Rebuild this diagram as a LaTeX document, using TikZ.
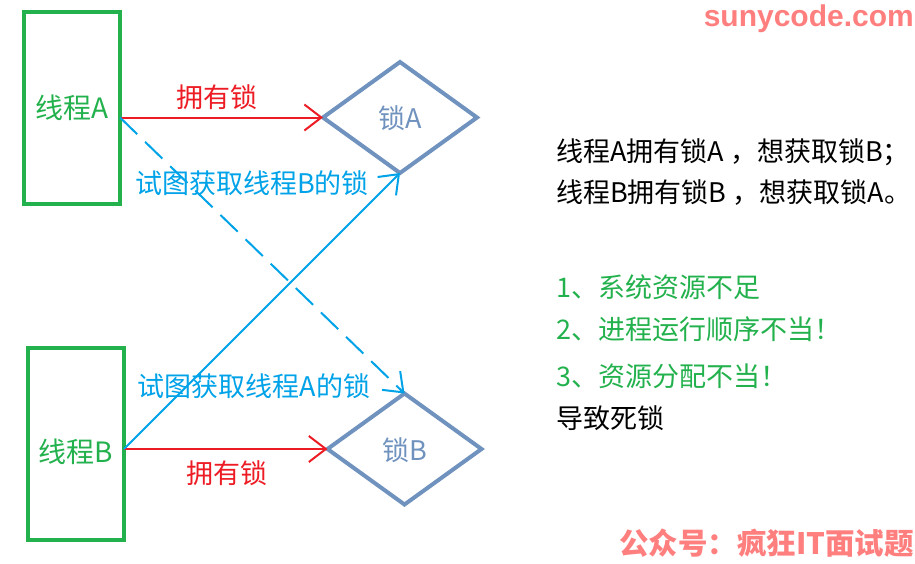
\documentclass[tikz,border=0pt]{standalone}
\usepackage{fontspec}
\setmainfont{Noto Sans CJK SC}
\newfontfamily\wmfont{Liberation Sans}
\usetikzlibrary{arrows.meta,shapes.geometric}
\definecolor{thgreen}{HTML}{22B14C}
\definecolor{lkred}{HTML}{ED1C24}
\definecolor{trblue}{HTML}{00A2E8}
\definecolor{lkgray}{HTML}{7092BE}
\definecolor{wmred}{HTML}{FF7F7F}
\tikzset{
  thread/.style={draw=thgreen,line width=4pt,minimum width=96pt,minimum height=192pt,inner sep=0pt,outer sep=0pt,text=thgreen,font=\fontsize{28}{30}\selectfont},
  lock/.style={diamond,draw=lkgray,line width=4pt,minimum width=154pt,minimum height=111pt,inner sep=0pt,outer sep=0pt,text=lkgray,font=\fontsize{27}{30}\selectfont},
  own/.style={draw=lkred,line width=2pt,-{Straight Barb[length=17pt,width=26pt,line width=2pt]}},
  try/.style={draw=trblue,line width=2pt,-{Straight Barb[length=17pt,width=26pt,line width=2pt]}},
  ownlbl/.style={text=lkred,font=\fontsize{27}{30}\selectfont,inner sep=0pt},
  trylbl/.style={text=trblue,font=\fontsize{27}{30}\selectfont,inner sep=0pt},
  note/.style={anchor=west,inner sep=0pt,font=\fontsize{27}{30}\selectfont},
}
\begin{document}
\begin{tikzpicture}[x=1pt,y=-1pt]
\useasboundingbox (0,0) rectangle (915,563);
\node[thread] (tA) at (72,108) {线程A};
\node[thread] (tB) at (76,444) {\raisebox{-8pt}[\height][\depth]{线程B}};
\node[lock] (dA) at (400,117.5) {\raisebox{-1pt}[\height][\depth]{锁A}};
\node[lock] (dB) at (404.5,449) {\raisebox{-1pt}[\height][\depth]{锁B}};
\coordinate (sA) at (tA.east |- dA.west);
\coordinate (sB) at (tB.east |- dB.west);
\draw[own] (sA) -- (dA.west);
\draw[own] (sB) -- (dB.west);
\draw[try,dash pattern=on 24pt off 11pt] (sA) -- (dB.north);
\draw[try] (sB) -- (dA.south);
\node[ownlbl] (oA) at (217,97) {拥有锁};
\node[ownlbl] (oB) at (227,473) {拥有锁};
\node[trylbl] (yA) at (252,183) {试图获取线程B的锁};
\node[trylbl] (yB) at (254,386) {试图获取线程A的锁};
\node[note] (n1) at (556,152) {线程A拥有锁A ，想获取锁B；};
\node[note] (n2) at (556,193) {线程B拥有锁B ，想获取锁A。};
\node[note,text=thgreen] (n3) at (556,287) {1、系统资源不足};
\node[note,text=thgreen] (n4) at (556,329) {2、进程运行顺序不当！};
\node[note,text=thgreen] (n5) at (556,376) {3、资源分配不当！};
\node[note] (n6) at (556,418) {导致死锁};
\node[anchor=east,inner sep=0pt,text=wmred,font=\wmfont\bfseries\fontsize{30}{32}\selectfont] (w1) at (914,19) {sunycode.com};
\node[anchor=east,inner sep=0pt,text=wmred,font=\bfseries\fontsize{29.5}{32}\selectfont] (w2) at (914,543) {公众号：疯狂IT面试题};
\end{tikzpicture}
\end{document}
